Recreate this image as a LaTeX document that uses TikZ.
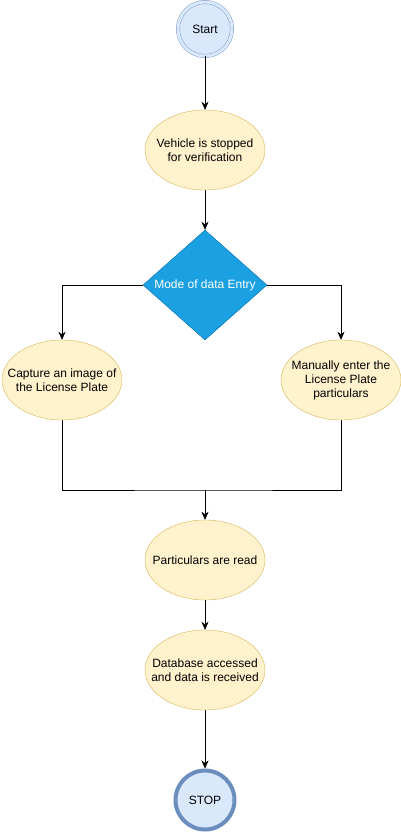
\documentclass[tikz,border=0pt]{standalone}
\usepackage{fontspec}
\setmainfont{Liberation Sans}
\usetikzlibrary{shapes.geometric,arrows.meta}
\definecolor{ovalfill}{HTML}{FFF2CC}
\definecolor{ovaldraw}{HTML}{D6B656}
\definecolor{decfill}{HTML}{1BA1E2}
\definecolor{decdraw}{HTML}{006EAF}
\definecolor{endfill}{HTML}{DAE8FC}
\definecolor{enddraw}{HTML}{6C8EBF}
\begin{document}
\begin{tikzpicture}[x=1pt,y=-1pt,>={Stealth[length=8pt,width=7pt,inset=2.5pt]}]
\tikzstyle{every node}=[font=\fontsize{12}{14}\selectfont,align=center,inner sep=0pt]
\tikzstyle{oval}=[ellipse,draw=ovaldraw,fill=ovalfill,inner xsep=-12pt,minimum width=120pt,minimum height=80pt]
\useasboundingbox (0,0) rectangle (401,833);
\node[circle,draw=enddraw,double=endfill,double distance=3pt,fill=endfill,minimum size=54pt](n0) at (205,29) {Start};
\node[oval](n1) at (205,150) {Vehicle is stopped\\for verification};
\node[diamond,draw=decdraw,fill=decfill,text=white,aspect=1.13,minimum width=124pt,minimum height=110pt](n2) at (205,285) {Mode of data Entry};
\node[oval](n3) at (62,380) {Capture an image of\\the License Plate};
\node[oval](n4) at (341,380) {Manually enter the\\License Plate\\particulars};
\node[oval](n5) at (205,560) {Particulars are read};
\node[oval](n6) at (205,670) {Database accessed\\and data is received};
\node[circle,draw=enddraw,line width=4pt,fill=endfill,minimum size=59pt](n7) at (205,800) {STOP};
\coordinate (m) at (205,490);
\draw[->] (n0.south) -- (n1.north);
\draw[->] (n1.south) -- (n2.north);
\draw[->] (n2.west) -| (n3.north);
\draw[->] (n2.east) -| (n4.north);
\draw (n3.south) |- (m) -| (n4.south);
\draw[->] (m) -- (n5.north);
\draw[->] (n5.south) -- (n6.north);
\draw[->] (n6.south) -- (n7.north);
\end{tikzpicture}
\end{document}
